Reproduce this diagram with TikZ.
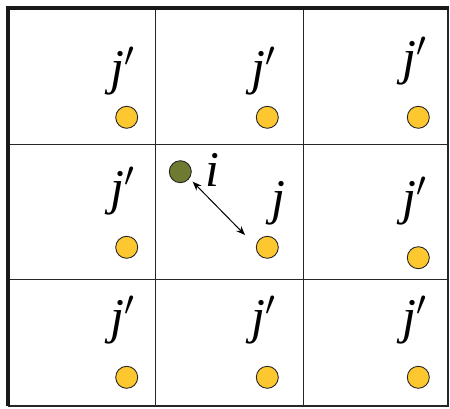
\RequirePackage{fix-cm}
\documentclass[tikz,border=0pt]{standalone}
\usepackage{fontspec}
\setmainfont{Liberation Serif}
\usetikzlibrary{arrows.meta}
\definecolor{dotyellow}{HTML}{FDC82F}
\definecolor{dotgreen}{HTML}{6E7A30}
\newcommand{\jp}{j$'$}
\tikzset{
  gridline/.style={line width=1.3pt, draw=black!85},
  ydot/.style={circle, draw=black!85, line width=0.9pt, fill=dotyellow, minimum size=22pt, inner sep=0pt},
  gdot/.style={circle, draw=black!85, line width=0.9pt, fill=dotgreen, minimum size=22pt, inner sep=0pt},
  lbl/.style={anchor=base, inner sep=0pt, font=\fontsize{50}{60}\selectfont\itshape}
}
\begin{document}
\begin{tikzpicture}[x=1pt,y=-1pt]
\useasboundingbox (0,0) rectangle (450,409);
% grid
\draw[gridline] (155.5,8) -- (155.5,406);
\draw[gridline] (303.5,8) -- (303.5,406);
\draw[gridline] (8,144.5) -- (448,144.5);
\draw[gridline] (8,279.5) -- (448,279.5);
% frame
\draw[line width=1.8pt, draw=black!85] (448,8) -- (448,406) -- (7.5,406);
\draw[line width=4pt, draw=black!90] (7.5,406) -- (7.5,8) -- (449,8);
% yellow dots
\node[ydot] (d11) at (126.7,117.3) {};
\node[ydot] (d12) at (267.3,117.3) {};
\node[ydot] (d13) at (418.3,117.3) {};
\node[ydot] (d21) at (126.7,247.3) {};
\node[ydot] (d22) at (267.3,247.3) {};
\node[ydot] (d23) at (418.3,257.7) {};
\node[ydot] (d31) at (126.7,377.3) {};
\node[ydot] (d32) at (267.3,377.3) {};
\node[ydot] (d33) at (418.3,377.3) {};
% green dot
\node[gdot] (gi) at (180.3,171.7) {};
% labels
\node[lbl] (l11) at (123,84.5) {\jp};
\node[lbl] (l12) at (263.5,84.5) {\jp};
\node[lbl] (l13) at (415,74.5) {\jp};
\node[lbl] (l21) at (123,204.5) {\jp};
\node[lbl] (l23) at (415,214.5) {\jp};
\node[lbl] (l31) at (123,333.5) {\jp};
\node[lbl] (l32) at (263.5,333.5) {\jp};
\node[lbl] (l33) at (415,333.5) {\jp};
\node[lbl] (li) at (212.5,186) {i};
\node[lbl] (lj) at (278,214.5) {j};
% arrow
\coordinate (a1) at (192.7,181.7);
\coordinate (a2) at (245,235);
\draw[line width=1pt, {Stealth[length=9pt,width=7pt]}-{Stealth[length=9pt,width=7pt]}] (a1) -- (a2);
\end{tikzpicture}
\end{document}
